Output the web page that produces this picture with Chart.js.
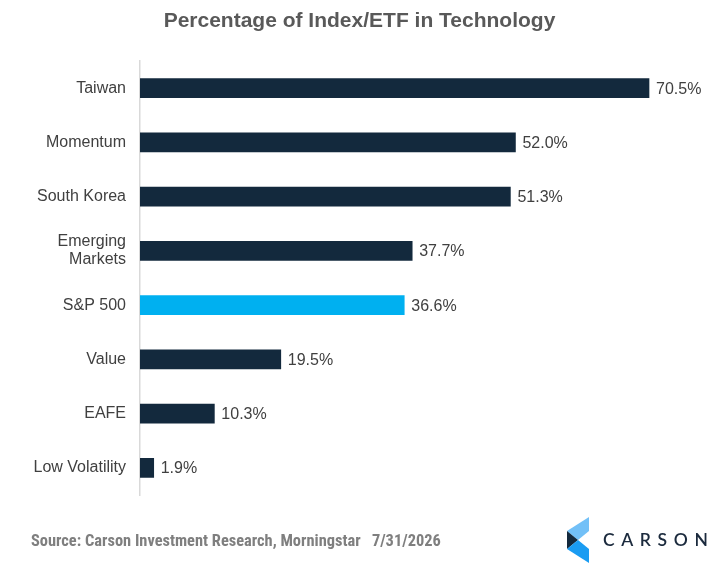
<!DOCTYPE html>
<html>
<head>
<meta charset="utf-8">
<script src="https://cdn.jsdelivr.net/npm/chart.js@4"></script>
<style>
  html,body{margin:0;padding:0;background:#fff;}
  #wrap{position:relative;width:719px;height:572px;overflow:hidden;}
  #title{position:absolute;left:0;top:8px;width:719px;text-align:center;font-family:"Liberation Sans",Arial,sans-serif;font-weight:bold;font-size:21px;color:#595959;}
  #source{position:absolute;left:31px;top:531px;font-family:"Liberation Sans Narrow","Roboto Condensed","Liberation Sans",Arial,sans-serif;font-weight:bold;font-size:16.4px;color:#7f7f7f;white-space:pre;}
  #logo{position:absolute;left:0;top:0;}
  #logotext{position:absolute;left:603px;top:529px;font-family:"Lato","Liberation Sans",Arial,sans-serif;font-weight:600;font-size:17.5px;letter-spacing:6.6px;color:#1b2a3d;}
  canvas{position:absolute;left:0;top:0;}
</style>
</head>
<body>
<div id="wrap">
  <canvas id="c" width="719" height="572"></canvas>
  <div id="title">Percentage of Index/ETF in Technology</div>
  <div id="source">Source: Carson Investment Research, Morningstar   7/31/2026</div>
  <svg id="logo" width="719" height="572">
    <polygon points="567,531 589,517 589,531 578,540" fill="#72c0f7"/>
    <polygon points="567,531 578,540 567,549" fill="#13293d"/>
    <polygon points="567,549 578,540 589,549 589,563" fill="#1a9cf2"/>
  </svg>
  <div id="logotext">CARSON</div>
</div>
<script>
const categories = ["Taiwan", "Momentum", "South Korea", ["Emerging", "Markets"], "S&P 500", "Value", "EAFE", "Low Volatility"];
const values = [70.5, 52.0, 51.3, 37.7, 36.6, 19.5, 10.3, 1.9];
const valueLabels = ["70.5%", "52.0%", "51.3%", "37.7%", "36.6%", "19.5%", "10.3%", "1.9%"];
const highlightIndex = 4;

const navy = "#13293d";
const cyan = "#00b0f0";

const labelPlugin = {
  id: "valueLabels",
  afterDatasetsDraw(chart) {
    const ctx = chart.ctx;
    const meta = chart.getDatasetMeta(0);
    ctx.save();
    ctx.font = "16px 'Liberation Sans', Arial, sans-serif";
    ctx.fillStyle = "#404040";
    ctx.textAlign = "left";
    ctx.textBaseline = "middle";
    meta.data.forEach((bar, i) => {
      ctx.fillText(valueLabels[i], bar.x + 7, bar.y + 1);
    });
    ctx.restore();
  }
};

new Chart(document.getElementById("c"), {
  type: "bar",
  data: {
    labels: categories,
    datasets: [{
      data: values,
      backgroundColor: values.map((v, i) => i === highlightIndex ? cyan : navy),
      borderWidth: 0,
      barThickness: 19
    }]
  },
  options: {
    indexAxis: "y",
    responsive: false,
    animation: false,
    devicePixelRatio: 1,
    layout: { padding: { left: 0, right: 37.5, top: 61, bottom: 77 } },
    plugins: {
      legend: { display: false },
      tooltip: { enabled: false },
      title: { display: false }
    },
    scales: {
      x: { display: false, min: 0, max: 75 },
      y: {
        afterFit(scale) { scale.width = 140; },
        grid: { display: false, drawTicks: false },
        border: { display: true, color: "#d9d9d9", width: 1.5 },
        ticks: {
          padding: 14,
          color: "#404040",
          font: { family: "'Liberation Sans', Arial, sans-serif", size: 16, lineHeight: 1.12 }
        }
      }
    }
  },
  plugins: [labelPlugin]
});
</script>
</body>
</html>
